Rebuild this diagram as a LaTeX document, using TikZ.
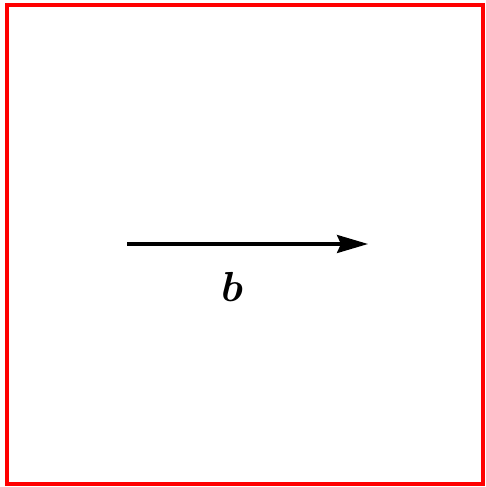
\documentclass[tikz,border=0pt]{standalone}
\usepackage{amssymb,amsmath,bm}
\usetikzlibrary{arrows.meta}

\begin{document}
\begin{tikzpicture}[x=1pt, y=1pt, >={Stealth[length=31pt,width=18pt,inset=4pt]}]
		\useasboundingbox (0,0) rectangle (485,487);
		% frame
		\draw[red, line width=4pt] (7,3) rectangle (483,482);
		% vector b
		\coordinate (bs) at (127,243);
		\coordinate (be) at (368,243);
		\draw[->, line width=3.2pt] (bs) -- (be);
		\node (lb) at (232,200) {\scalebox{4.2}{$\bm{b}$}};
	\end{tikzpicture}
\end{document}
